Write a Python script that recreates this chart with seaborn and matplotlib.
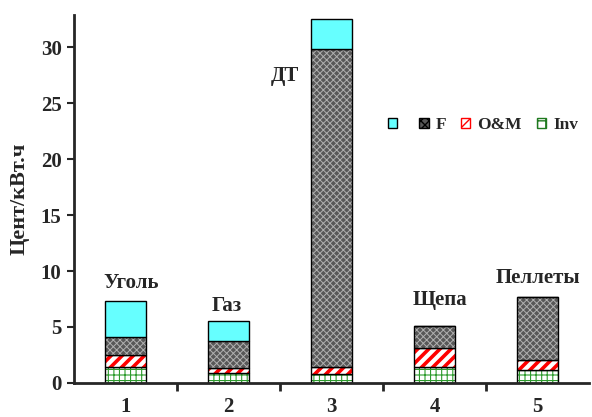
import matplotlib
matplotlib.use("Agg")
import matplotlib.pyplot as plt
import seaborn as sns
import numpy as np
from matplotlib.patches import Patch

sns.set_style("ticks")
plt.rcParams["font.family"] = ["Liberation Serif", "DejaVu Serif"]
plt.rcParams["font.weight"] = "bold"

categories = ["1", "2", "3", "4", "5"]
fuel_names = ["Уголь", "Газ", "ДТ", "Щепа", "Пеллеты"]
inv = [1.43, 0.87, 0.80, 1.40, 1.16]
om = [1.10, 0.44, 0.57, 1.67, 0.90]
fuel = [1.56, 2.45, 28.50, 2.00, 5.64]
extra = [3.25, 1.79, 2.69, 0.0, 0.0]

# label anchor positions (x in category units, y in data units)
label_x = [0.05, 0.98, 1.55, 3.05, 4.0]
label_y = [8.95, 6.83, 27.4, 7.37, 9.37]

CYAN = "#66ffff"
layers = [
    # values, face, hatch, hatch color, hatch width
    (inv, "white", "+++", "#2e9b2e", 0.8),
    (om, "white", "///", "#ff0000", 2.6),
    (fuel, "#585858", "xxxxx", "#b0b0b0", 0.7),
    (extra, CYAN, None, "black", 1.0),
]

fig = plt.figure(figsize=(5.92, 4.17), dpi=100)
ax = fig.add_axes([0.125, 0.082, 0.87, 0.882])

bottom = np.zeros(len(categories))
for vals, face, hatch, hcol, hlw in layers:
    vals = np.array(vals)
    with plt.rc_context({"hatch.linewidth": hlw}):
        sns.barplot(x=categories, y=vals, bottom=bottom, color=face, width=0.4,
                    hatch=hatch, edgecolor=hcol, linewidth=0, errorbar=None,
                    saturation=1, ax=ax)
    # black outline on top of hatch
    ax.bar(np.arange(len(categories)), vals, bottom=bottom, width=0.4,
           fill=False, edgecolor="black", linewidth=1.0)
    bottom = bottom + vals

for name, lx, ly in zip(fuel_names, label_x, label_y):
    ax.text(lx, ly, name, ha="center", va="center", fontsize=15, fontweight="bold")

ax.set_xlim(-0.5, 4.5)
ax.set_ylim(0, 32.9)
ax.set_yticks([0, 5, 10, 15, 20, 25, 30])
ax.set_ylabel("Цент/кВт.ч", fontsize=16, fontweight="bold", labelpad=8)
ax.set_xlabel("")

ax.set_xticks([0.5, 1.5, 2.5, 3.5])
ax.set_xticklabels([])
ax.set_xticks(range(len(categories)), minor=True)
ax.set_xticklabels(categories, minor=True)
ax.tick_params(axis="x", which="minor", length=0, pad=10, labelsize=15)
ax.tick_params(axis="x", which="major", length=6, width=2, direction="out")
ax.tick_params(axis="y", length=5, width=1.5, direction="out", labelsize=15, pad=4)

for s in ["top", "right"]:
    ax.spines[s].set_visible(False)
for s in ["left", "bottom"]:
    ax.spines[s].set_linewidth(2)

handles = [
    Patch(facecolor=CYAN, edgecolor="black", label=""),
    Patch(facecolor="#585858", edgecolor="black", hatch="xxxx", label="F"),
    Patch(facecolor="white", edgecolor="red", hatch="///", label="O&M"),
    Patch(facecolor="white", edgecolor="#1f7a1f", hatch="++", label="Inv"),
]
leg = ax.legend(handles=handles, ncol=4, frameon=False, loc="center",
                bbox_to_anchor=(0.794, 0.70), fontsize=12.5, handlelength=0.55,
                handleheight=0.55, columnspacing=0.85, handletextpad=0.4)
for t in leg.get_texts():
    t.set_fontweight("bold")

fig.savefig("out.png", dpi=100)
